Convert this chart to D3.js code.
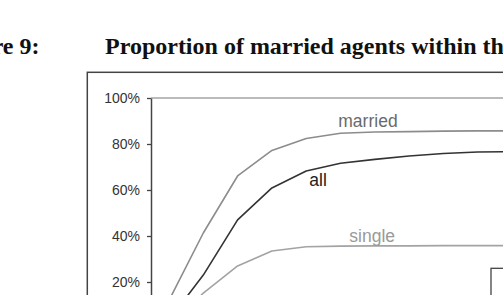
<!DOCTYPE html>
<html>
<head>
<meta charset="utf-8">
<script src="https://cdn.jsdelivr.net/npm/d3@7"></script>
<style>
  html, body { margin: 0; padding: 0; background: #fff; overflow: hidden; }
  svg { display: block; }
</style>
</head>
<body>
<svg id="chart" width="503" height="295"></svg>
<script>
// ---- data ----
const periods = [0, 1, 2, 3, 4, 5, 6, 7, 8, 9, 10];
const marriedValues = [0.12, 0.413, 0.661, 0.772, 0.824, 0.847, 0.852, 0.854, 0.856, 0.857, 0.857];
const allValues     = [0.035, 0.23, 0.47, 0.609, 0.683, 0.716, 0.733, 0.748, 0.759, 0.765, 0.767];
const singleValues  = [0.0, 0.152, 0.27, 0.335, 0.353, 0.356, 0.357, 0.357, 0.358, 0.358, 0.358];
const seriesNames = ["married", "all", "single"];
const yTicks = [0.2, 0.4, 0.6, 0.8, 1.0];
const figureLabel = "Figure 9:";
const titleText = "Proportion of married agents within the";

// ---- layout ----
const svg = d3.select("#chart");
const x = d3.scaleLinear().domain([0, 10]).range([169, 512]);
const y = d3.scaleLinear().domain([0, 1]).range([328, 98]);

// title
svg.append("text")
  .attr("x", 39.5).attr("y", 53.5)
  .attr("text-anchor", "end")
  .style("font-family", "'Liberation Serif', 'Times New Roman', serif")
  .style("font-weight", "bold").style("font-size", "24px")
  .attr("fill", "#111")
  .text(figureLabel);
svg.append("text")
  .attr("x", 105).attr("y", 53.5)
  .style("font-family", "'Liberation Serif', 'Times New Roman', serif")
  .style("font-weight", "bold").style("font-size", "24px")
  .attr("fill", "#111")
  .text(titleText);

// outer figure box
svg.append("rect")
  .attr("x", 87.3).attr("y", 72.3)
  .attr("width", 600).attr("height", 400)
  .attr("fill", "none").attr("stroke", "#444").attr("stroke-width", 1.5);

// plot top frame line (100%)
svg.append("line")
  .attr("x1", x.range()[0] - 18).attr("x2", 520)
  .attr("y1", y(1)).attr("y2", y(1))
  .attr("stroke", "#a5a5a5").attr("stroke-width", 1.6);

// y axis
const yAxis = d3.axisLeft(y)
  .tickValues(yTicks)
  .tickFormat(d3.format(".0%"))
  .tickSize(4).tickSizeOuter(0).tickPadding(7);
const gy = svg.append("g").attr("transform", "translate(151,0)").call(yAxis);
gy.select(".domain").attr("stroke", "#444").attr("stroke-width", 1.5);
gy.selectAll(".tick line").attr("stroke", "#444").attr("stroke-width", 1.3);
gy.selectAll(".tick text")
  .style("font-family", "'Liberation Sans', Arial, Helvetica, sans-serif")
  .style("font-size", "14px").attr("fill", "#333");

// legend box (partially visible)
svg.append("rect")
  .attr("x", 491).attr("y", 268.3)
  .attr("width", 100).attr("height", 100)
  .attr("fill", "none").attr("stroke", "#444").attr("stroke-width", 1.3);

// lines
const line = d3.line().x((d, i) => x(periods[i])).y(d => y(d));
const series = [
  { name: seriesNames[0], values: marriedValues, stroke: "#8c8c8c", width: 1.6, label: "#6a6a6a", lx: 338.3, ly: 127 },
  { name: seriesNames[1], values: allValues,     stroke: "#333",    width: 1.6, label: "#222",    lx: 309.3, ly: 186 },
  { name: seriesNames[2], values: singleValues,  stroke: "#a3a3a3", width: 1.6, label: "#9a9a9a", lx: 349.3, ly: 241.5 }
];
series.forEach(s => {
  svg.append("path")
    .datum(s.values)
    .attr("d", line)
    .attr("fill", "none")
    .attr("stroke", s.stroke)
    .attr("stroke-width", s.width)
    .attr("stroke-linejoin", "round");
  svg.append("text")
    .attr("x", s.lx).attr("y", s.ly)
    .style("font-family", "'Liberation Sans', Arial, Helvetica, sans-serif")
    .style("font-size", "17.5px")
    .attr("fill", s.label)
    .text(s.name);
});
</script>
</body>
</html>
